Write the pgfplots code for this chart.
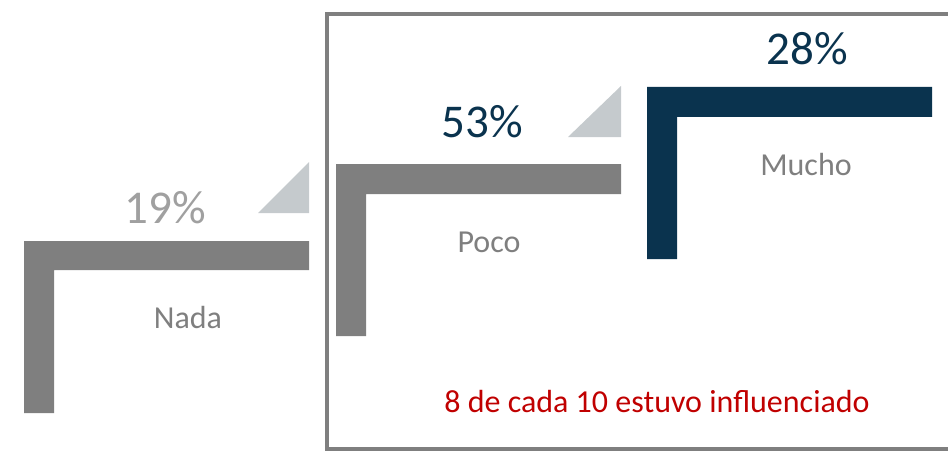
\documentclass[border=0pt]{standalone}
\usepackage{pgfplots}
\pgfplotsset{compat=1.18}
\usepackage{fontspec}
\setmainfont{Carlito}
\definecolor{bargray}{HTML}{7F7F7F}
\definecolor{navy}{HTML}{0A334E}
\definecolor{tri}{HTML}{C5CACD}
\definecolor{lightlab}{HTML}{A0A0A0}
\definecolor{redtxt}{HTML}{C00000}
\newcommand{\bigfs}{\fontsize{47bp}{56bp}\selectfont}
\newcommand{\midfs}{\fontsize{32bp}{38bp}\selectfont}
\begin{document}
\begin{tikzpicture}
\begin{axis}[width=948bp, height=454bp, scale only axis,
  xmin=0, xmax=948, ymin=0, ymax=454, y dir=reverse, hide axis]
% invisible extent
\addplot[draw=none] coordinates {(0,0) (948,454)};
% frame
\addplot[draw=bargray, line width=3.5bp] coordinates {(960,14) (327,14) (327,449) (960,449)};
% triangles
\addplot[fill=tri, draw=none] coordinates {(258,213) (309,213) (309,162)} -- cycle;
\addplot[fill=tri, draw=none] coordinates {(568,137) (621,137) (621,86)} -- cycle;
% L shapes (Nada 19%, Poco 53%, Mucho 28%)
\addplot[fill=bargray, draw=none] coordinates {(24,241) (309,241) (309,270) (54,270) (54,413) (24,413)} -- cycle;
\addplot[fill=bargray, draw=none] coordinates {(336,164) (621,164) (621,194) (366,194) (366,336) (336,336)} -- cycle;
\addplot[fill=navy, draw=none] coordinates {(647,87) (932,87) (932,117) (677,117) (677,259) (647,259)} -- cycle;
% labels
\node[anchor=base, text=lightlab, font=\bigfs, inner sep=0pt] at (axis cs:165,223) {19\%};
\node[anchor=base, text=navy, font=\bigfs, inner sep=0pt] at (axis cs:482,137) {53\%};
\node[anchor=base, text=navy, font=\bigfs, inner sep=0pt] at (axis cs:807,65) {28\%};
\node[anchor=base, text=bargray, font=\midfs, inner sep=0pt] at (axis cs:188,328) {Nada};
\node[anchor=base, text=bargray, font=\midfs, inner sep=0pt] at (axis cs:489,252) {Poco};
\node[anchor=base, text=bargray, font=\midfs, inner sep=0pt] at (axis cs:806,175) {Mucho};
\node[anchor=base, text=redtxt, font=\midfs, inner sep=0pt] at (axis cs:657,412) {8 de cada 10 estuvo influenciado};
\end{axis}
\end{tikzpicture}
\end{document}
